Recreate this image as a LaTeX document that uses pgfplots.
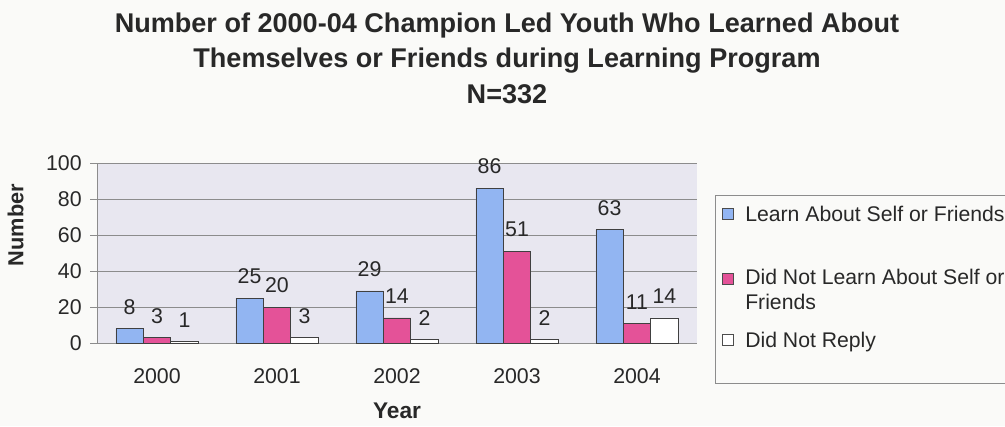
\documentclass[border=0pt]{standalone}
\usepackage{fontspec}
\setmainfont{Liberation Sans}
\usepackage{pgfplots}
\pgfplotsset{compat=1.18}

\definecolor{learnblue}{RGB}{146,181,242}
\definecolor{notpink}{RGB}{228,82,152}
\definecolor{plotbg}{RGB}{232,231,240}
\definecolor{gridgray}{RGB}{140,140,140}
\definecolor{pagebg}{RGB}{250,250,248}
\definecolor{txt}{RGB}{40,40,40}

\begin{document}
\begin{tikzpicture}
% page background (pixel coordinates of the reference)
\begin{scope}[x=0.75pt,y=-0.75pt,shift={(-72.75pt,257.25pt)}]
  \fill[pagebg] (0,0) rectangle (1005,426);
\end{scope}

\begin{axis}[
    at={(0,0)}, anchor=south west,
    scale only axis,
    width=450pt, height=135pt,
    xmin=-0.5, xmax=4.5,
    ymin=0, ymax=100,
    ybar=0pt, bar width=0.229,
    axis background/.style={fill=plotbg},
    axis line style={gridgray},
    axis x line*=bottom, axis y line*=left,
    tick align=outside,
    tick style={gridgray, thin},
    major tick length=5pt,
    xtick={0,1,2,3,4},
    xticklabels={2000,2001,2002,2003,2004},
    major x tick style={draw=none},
    extra x ticks={-0.5,0.5,1.5,2.5,3.5,4.5},
    extra x tick labels={},
    extra x tick style={major tick length=5pt, tick style={gridgray}},
    ytick={0,20,...,100},
    ymajorgrids,
    grid style={gridgray, thin},
    every tick label/.append style={font=\fontsize{16}{18}\selectfont, text=txt},
    /pgf/number format/assume math mode=true,
    xticklabel style={yshift=-11pt},
    yticklabel style={xshift=-3pt},
    xlabel={\textbf{Year}},
    ylabel={\textbf{Number}},
    xlabel style={font=\fontsize{17}{18}\selectfont, text=txt, yshift=3pt},
    ylabel style={font=\fontsize{16.3}{18}\selectfont, text=txt, at={(ticklabel cs:0.655)}, yshift=10pt},
    nodes near coords,
    every node near coord/.append style={font=\fontsize{16}{18}\selectfont, text=txt, yshift=7pt},
]
\addplot[fill=learnblue, draw=black!75] coordinates {(0,8) (1,25) (2,29) (3,86) (4,63)};
\addplot[fill=notpink, draw=black!75] coordinates {(0,3) (1,20) (2,14) (3,51) (4,11)};
\addplot[fill=white, draw=black!75] coordinates {(0,1) (1,3) (2,2) (3,2) (4,14)};
\end{axis}

\begin{scope}[x=0.75pt,y=-0.75pt,shift={(-72.75pt,257.25pt)}]
  % title
  \node[font=\fontsize{20.3}{26.6}\selectfont\bfseries, text=txt, align=center]
    at (507,58) {Number of 2000-04 Champion Led Youth Who Learned About\\
                 Themselves or Friends during Learning Program\\
                 N=332};
  % legend (runs past the right edge, as in the reference)
  \draw[gridgray, fill=pagebg] (715,195) rectangle (1030,383);
  \draw[black!70, fill=learnblue] (722,208.5) rectangle (733,219.5);
  \draw[black!70, fill=notpink]   (722,273.5) rectangle (733,284.5);
  \draw[black!70, fill=white]     (722,334.5) rectangle (733,345.5);
  \begin{scope}[every node/.style={font=\fontsize{15.9}{18.75}\selectfont, text=txt, anchor=base west, inner sep=0pt}]
    \node at (745,221) {Learn About Self or Friends};
    \node at (745,284) {Did Not Learn About Self or};
    \node at (745,309) {Friends};
    \node at (745,347) {Did Not Reply};
  \end{scope}
  \pgfresetboundingbox
  \path[use as bounding box] (0,0) rectangle (1005,426);
\end{scope}
\end{tikzpicture}
\end{document}
